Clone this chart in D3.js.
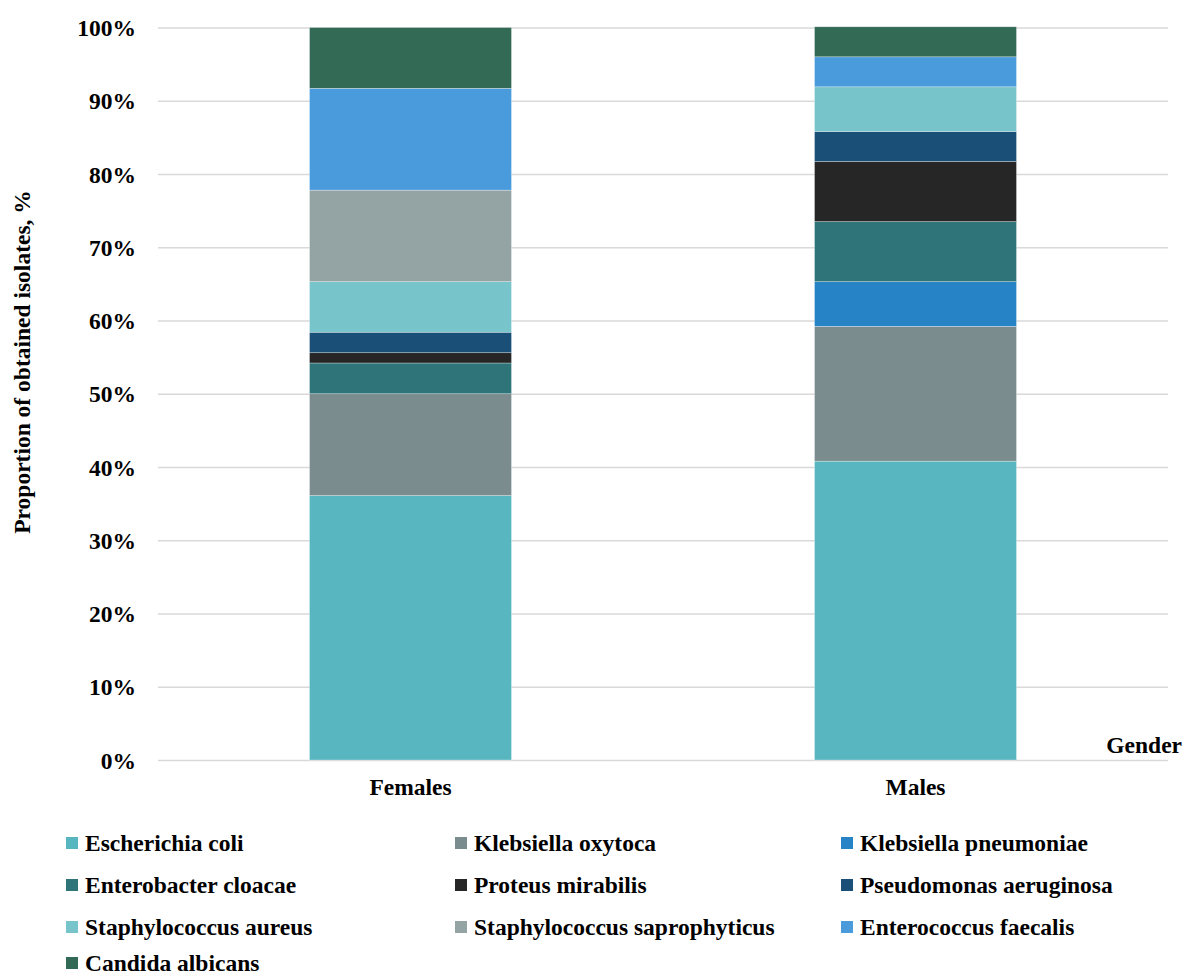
<!DOCTYPE html>
<html>
<head>
<meta charset="utf-8">
<script src="https://cdn.jsdelivr.net/npm/d3@7"></script>
<style>
  body { margin: 0; background: #fff; }
  text { font-family: "Liberation Serif", "Times New Roman", serif; font-weight: bold; fill: #000; }
</style>
</head>
<body>
<div id="viz"></div>
<script>
const groups = ['Females', 'Males'];
const species = ['Escherichia coli', 'Klebsiella oxytoca', 'Klebsiella pneumoniae',
  'Enterobacter cloacae', 'Proteus mirabilis', 'Pseudomonas aeruginosa',
  'Staphylococcus aureus', 'Staphylococcus saprophyticus', 'Enterococcus faecalis',
  'Candida albicans'];
// percent of isolates per gender, same order as species
const females = [36.1, 13.9, 0, 4.2, 1.4, 2.8, 6.9, 12.5, 13.9, 8.3];
const males = [40.8, 18.4, 6.1, 8.2, 8.2, 4.1, 6.1, 0, 4.1, 4.1];
const colors = ['#58b6c0', '#7a8c8e', '#2683c6', '#2e7479', '#262626', '#1a5078',
  '#78c4cb', '#94a3a3', '#4a9bdc', '#336a55'];
const yTicks = [0, 10, 20, 30, 40, 50, 60, 70, 80, 90, 100];

let width = 1184, height = 978;
let margin = { top: 27.5, right: 16, bottom: 218, left: 158 };
let fs = '23.5px';

let svg = d3.select('#viz').append('svg')
  .attr('width', width)
  .attr('height', height);

let x = d3.scaleBand()
  .domain(groups)
  .range([margin.left, width - margin.right])
  .paddingInner(0.6)
  .paddingOuter(0.3);

let y = d3.scaleLinear()
  .domain([0, 100])
  .range([height - margin.bottom, margin.top]);

let color = d3.scaleOrdinal().domain(species).range(colors);

// gridlines + tick labels
let yAxis = d3.axisLeft(y)
  .tickValues(yTicks)
  .tickSize(-(width - margin.right - margin.left))
  .tickPadding(22)
  .tickFormat(d => d + '%');

let gy = svg.append('g')
  .attr('transform', `translate(${margin.left},0)`)
  .call(yAxis);
gy.select('.domain').remove();
gy.selectAll('.tick line').attr('stroke', '#d9d9d9').attr('stroke-width', 1.3);
gy.selectAll('.tick text')
  .style('font-size', fs)
  .style('font-family', '"Liberation Serif", serif')
  .style('font-weight', 'bold')
  .attr('fill', '#000')
  .attr('dy', '0.35em');

// stack data
let rows = groups.map((g, i) => {
  let vals = i === 0 ? females : males;
  let r = { group: g };
  species.forEach((s, j) => { r[s] = vals[j]; });
  return r;
});
let stacked = d3.stack().keys(species)(rows);

svg.append('g')
  .selectAll('g')
  .data(stacked)
  .join('g')
  .attr('fill', d => color(d.key))
  .selectAll('rect')
  .data(d => d.filter(p => p[1] - p[0] > 0))
  .join('rect')
  .attr('x', d => x(d.data.group))
  .attr('width', x.bandwidth())
  .attr('y', d => y(d[1]))
  .attr('height', d => y(d[0]) - y(d[1]))
  .attr('stroke', '#ffffff')
  .attr('stroke-opacity', 0.5)
  .attr('stroke-width', 0.6);

// x axis labels
let xAxis = d3.axisBottom(x).tickSize(0).tickPadding(18);
let gx = svg.append('g')
  .attr('transform', `translate(0,${y(0)})`)
  .call(xAxis);
gx.select('.domain').remove();
gx.selectAll('.tick text')
  .style('font-size', fs)
  .style('font-family', '"Liberation Serif", serif')
  .style('font-weight', 'bold')
  .attr('fill', '#000');

svg.append('text')
  .text('Gender')
  .attr('x', 1182)
  .attr('y', 753)
  .attr('text-anchor', 'end')
  .style('font-size', fs);

svg.append('text')
  .text('Proportion of obtained isolates, %')
  .attr('transform', 'translate(30,362) rotate(-90)')
  .attr('text-anchor', 'middle')
  .style('font-size', fs);

// legend, 3 columns
let colX = [66, 455, 841];
let rowY = [843, 885, 927, 963];
let leg = svg.append('g')
  .selectAll('g')
  .data(species)
  .join('g')
  .attr('transform', (d, i) => `translate(${colX[i % 3]},${rowY[Math.floor(i / 3)]})`);

leg.append('rect')
  .attr('x', 0)
  .attr('y', -6)
  .attr('width', 12)
  .attr('height', 12)
  .attr('fill', d => color(d));

leg.append('text')
  .text(d => d)
  .attr('x', 19)
  .attr('dy', '0.35em')
  .style('font-size', fs);
</script>
</body>
</html>
